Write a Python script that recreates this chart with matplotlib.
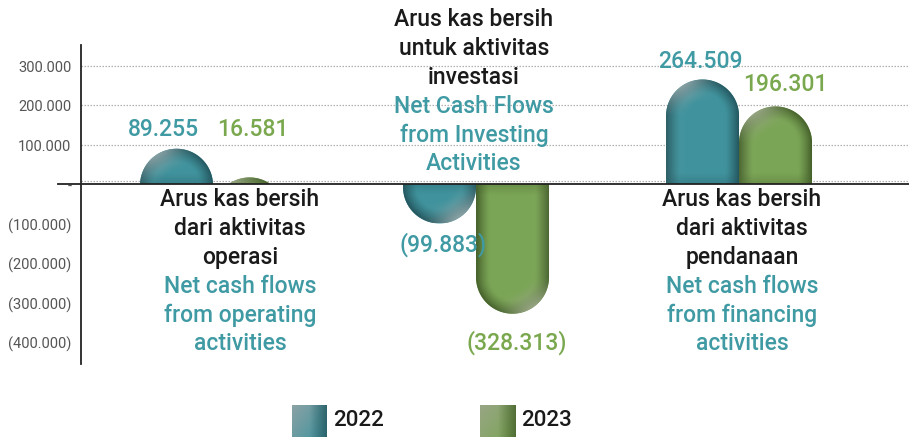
import numpy as np
import matplotlib
matplotlib.use("Agg")
import matplotlib.pyplot as plt
from matplotlib.patches import Polygon
from matplotlib import transforms

plt.rcParams['font.family'] = ['Roboto', 'DejaVu Sans']

# ---------------- data ----------------
categories_id = ["Arus kas bersih\ndari aktivitas\noperasi",
                 "Arus kas bersih\nuntuk aktivitas\ninvestasi",
                 "Arus kas bersih\ndari aktivitas\npendanaan"]
categories_en = ["Net cash flows\nfrom operating\nactivities",
                 "Net Cash Flows\nfrom Investing\nActivities",
                 "Net cash flows\nfrom financing\nactivities"]
years = ["2022", "2023"]
values_2022 = [89255, -99883, 264509]
values_2023 = [16581, -328313, 196301]
labels_2022 = ["89.255", "(99.883)", "264.509"]
labels_2023 = ["16.581", "(328.313)", "196.301"]
ytick_values = [300000, 200000, 100000, 0, -100000, -200000, -300000, -400000]
ytick_labels = ["300.000", "200.000", "100.000", "-", "(100.000)", "(200.000)",
                "(300.000)", "(400.000)"]

# ---------------- layout ----------------
W, H = 909, 439
fig = plt.figure(figsize=(W / 100, H / 100), dpi=100)
ax_l, ax_r, ax_t, ax_b = 81, 909, 46, 365
ax = fig.add_axes([ax_l / W, 1 - ax_b / H, (ax_r - ax_l) / W, (ax_b - ax_t) / H])

PXU = 263.0            # px per category unit
PXY = 39.5 / 100000.0  # px per data unit (y)
Y0 = 185.0             # pixel row of zero
x0 = -0.502
xlim = (x0, x0 + (ax_r - ax_l) / PXU)
ylim = (-(ax_b - Y0) / PXY, (Y0 - ax_t) / PXY)


def px2x(px):
    return x0 + (px - ax_l) / PXU


def py2y(py):
    return (Y0 - py) / PXY


TEAL = np.array([0x40, 0x93, 0x9d]) / 255
TEAL_D = np.array([0x25, 0x58, 0x60]) / 255
TEAL_L = np.array([0x8a, 0xa2, 0xa5]) / 255
GREEN = np.array([0x7b, 0xa5, 0x56]) / 255
GREEN_D = np.array([0x46, 0x62, 0x2c]) / 255
GREEN_L = np.array([0x98, 0xa6, 0x84]) / 255
TEAL_TXT = "#3f9aa3"
GREEN_TXT = "#7aa84e"

bw = 73 / PXU
rx = bw / 2
ry = rx * PXU / PXY


def pill(xc, v):
    s = 1 if v >= 0 else -1
    cy = v - s * ry
    th = np.linspace(0, np.pi, 80)
    xs = xc + rx * np.cos(th)
    ys = cy + s * ry * np.sin(th)
    X = np.concatenate([[xc + rx], xs, [xc - rx]])
    Y = np.concatenate([[-s * 1e7], ys, [-s * 1e7]])
    Y = np.clip(Y, min(0, v), max(0, v))
    return np.column_stack([X, Y])


def draw_bar(xc, v, base, dark, light):
    s = 1 if v >= 0 else -1
    cy = v - s * ry
    poly = Polygon(pill(xc, v), closed=True, facecolor=base, edgecolor='none', zorder=3)
    ax.add_patch(poly)
    nx = 80
    ny = max(20, int(abs(v) / ry * 40))
    xs = np.linspace(xc - rx, xc + rx, nx)
    ys = np.linspace(min(0, v), max(0, v), ny)
    X, Yg = np.meshgrid(xs, ys)
    u = (X - xc) / rx
    vy = s * np.maximum(0, s * (Yg - cy) / ry)
    d = np.sqrt(u ** 2 + vy ** 2)
    t = np.clip((d - 0.62) / 0.38, 0, 1) ** 1.3
    hx, hy = -0.55 * s, 0.83 * s
    cosang = np.where(d > 1e-6, (u * hx + vy * hy) / np.maximum(d, 1e-6), 0)
    hw = np.clip(cosang, 0, 1) ** 4 * np.clip((d - 0.4) / 0.6, 0, 1)
    # slight darkening near the base (zero line)
    nb = np.clip(1 - np.abs(Yg) / (0.3 * ry), 0, 1) * 0.3
    img = base[None, None, :] * (1 - t[..., None]) + dark[None, None, :] * t[..., None]
    img = img * (1 - nb[..., None]) + dark[None, None, :] * nb[..., None]
    img = img * (1 - hw[..., None]) + light[None, None, :] * hw[..., None]
    im = ax.imshow(img, extent=[xc - rx, xc + rx, min(0, v), max(0, v)], origin='lower',
                   aspect='auto', interpolation='bilinear', zorder=3)
    im.set_clip_path(poly)


x = np.arange(len(categories_id))
for i in range(len(x)):
    draw_bar(x[i] - bw / 2, values_2022[i], TEAL, TEAL_D, TEAL_L)
    draw_bar(x[i] + bw / 2, values_2023[i], GREEN, GREEN_D, GREEN_L)

ax.set_xlim(*xlim)
ax.set_ylim(*ylim)

# gridlines (positive only, dotted)
for yv in [300000, 200000, 100000]:
    ax.axhline(yv, color='#b0b0b0', linestyle=(0, (1.2, 1.2)), linewidth=0.9, zorder=1)
off = transforms.offset_copy(ax.get_yaxis_transform(), fig=fig, x=0, y=3.5, units='dots')
ax.plot([0, 1], [0, 0], transform=off, color='#b0b0b0', linestyle=(0, (1.2, 1.2)),
        linewidth=0.9, zorder=1)
# zero line extending left of axis
ax.plot([px2x(58), xlim[1]], [0, 0], color='#222222', linewidth=1.3, clip_on=False, zorder=4)

for sp in ['top', 'right', 'bottom']:
    ax.spines[sp].set_visible(False)
ax.spines['left'].set_color('#222222')
ax.spines['left'].set_linewidth(1.3)
ax.set_xticks([])
ax.set_yticks(ytick_values)
ax.set_yticklabels(ytick_labels)
ax.tick_params(axis='y', length=0, pad=7, labelsize=10.5, labelcolor='#555555')
ax.set_facecolor('none')

# value labels (pixel positions as layout)
lab22_px = [(163, 130), (443, 245), (700, 62)]
lab23_px = [(253, 130), (517, 343), (785, 85)]
for i in range(len(x)):
    ax.text(px2x(lab22_px[i][0]), py2y(lab22_px[i][1]), labels_2022[i], ha='center', va='center',
            fontsize=16.5, color=TEAL_TXT, fontweight='medium', zorder=5)
    ax.text(px2x(lab23_px[i][0]), py2y(lab23_px[i][1]), labels_2023[i], ha='center', va='center',
            fontsize=16.5, color=GREEN_TXT, fontweight='medium', zorder=5)

# category labels
cat_px_x = [240, 474, 742]
cat_px_y = [200, 20, 200]
step = 28.8
for i in range(len(x)):
    lines = categories_id[i].split("\n") + categories_en[i].split("\n")
    cols = ['#1a1a1a'] * 3 + [TEAL_TXT] * 3
    for j, (ln, c) in enumerate(zip(lines, cols)):
        ax.text(px2x(cat_px_x[i]), py2y(cat_px_y[i] + j * step), ln, ha='center', va='center',
                fontsize=16.5, color=c, fontweight='medium', zorder=6)

# legend
leg_sq_x = [292, 480]
leg_cols = [(TEAL, TEAL_D, TEAL_L), (GREEN, GREEN_D, GREEN_L)]
for k, yr in enumerate(years):
    lax = fig.add_axes([leg_sq_x[k] / W, 1 - 438 / H, 35 / W, 32 / H])
    gx, gy = np.meshgrid(np.linspace(0, 1, 40), np.linspace(0, 1, 40))
    base, dark, light = leg_cols[k]
    t = np.clip(gx * 0.6 + gy * 0.4, 0, 1)
    img = light[None, None, :] * (1 - t[..., None]) + base[None, None, :] * t[..., None]
    t2 = np.clip((gx - 0.5) / 0.5, 0, 1) * 0.8
    img = img * (1 - t2[..., None]) + dark[None, None, :] * t2[..., None]
    lax.imshow(img, aspect='auto', interpolation='bilinear')
    lax.axis('off')
    fig.text((leg_sq_x[k] + 41) / W, 1 - 421 / H, yr, ha='left', va='center', fontsize=16,
             color='#1a1a1a', fontweight='medium')

fig.savefig("out.png", dpi=100)
